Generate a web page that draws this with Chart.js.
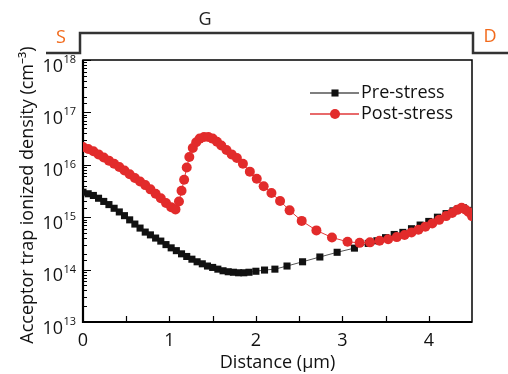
<!DOCTYPE html>
<html>
<head>
<meta charset="utf-8">
<script src="https://cdn.jsdelivr.net/npm/chart.js@4.4.0/dist/chart.umd.min.js"></script>
<style>
  html, body { margin: 0; padding: 0; background: #fff; }
  #wrap { width: 508px; height: 374px; }
</style>
</head>
<body>
<div id="wrap"><canvas id="trap-chart" width="508" height="374"></canvas></div>
<script>
const FONT = "'Open Sans', 'Noto Sans', sans-serif";

// Pre-stress (black squares), distance in um, density in cm^-3
const preX = [0, 0.06, 0.12, 0.18, 0.24, 0.30, 0.36, 0.42, 0.48, 0.54, 0.60, 0.66, 0.72, 0.78, 0.84, 0.90, 0.96,
  1.02, 1.08, 1.14, 1.20, 1.26, 1.32, 1.38, 1.44, 1.50, 1.56, 1.62, 1.68, 1.74, 1.80, 1.86, 1.92, 2.00,
  2.10, 2.22, 2.36, 2.54, 2.74, 2.94, 3.14, 3.30, 3.40, 3.50, 3.60, 3.70, 3.80, 3.90, 4.00, 4.10, 4.20,
  4.28, 4.34, 4.40, 4.45, 4.50];
const preY = [3.0e15, 2.8e15, 2.6e15, 2.3e15, 2.0e15, 1.74e15, 1.48e15, 1.26e15, 1.07e15, 8.9e14, 7.4e14, 6.2e14,
  5.2e14, 4.6e14, 4.0e14, 3.5e14, 3.0e14, 2.6e14, 2.3e14, 2.0e14, 1.78e14, 1.58e14, 1.41e14, 1.29e14, 1.17e14,
  1.10e14, 1.02e14, 9.5e13, 9.1e13, 8.9e13, 8.7e13, 8.7e13, 8.9e13, 9.3e13, 9.8e13, 1.02e14, 1.17e14, 1.41e14,
  1.74e14, 2.14e14, 2.57e14, 3.16e14, 3.55e14, 4.07e14, 4.68e14, 5.13e14, 6.03e14, 7.08e14, 8.3e14, 1.0e15,
  1.17e15, 1.32e15, 1.45e15, 1.51e15, 1.35e15, 1.07e15];

// Post-stress (red circles)
const postX = [0, 0.06, 0.12, 0.18, 0.24, 0.30, 0.36, 0.42, 0.48, 0.54, 0.60, 0.66, 0.72, 0.78, 0.84, 0.90, 0.96,
  1.02, 1.07, 1.11, 1.14, 1.17, 1.20, 1.23, 1.27, 1.31, 1.35, 1.40, 1.45, 1.50, 1.55, 1.60, 1.66, 1.72, 1.78,
  1.85, 1.93, 2.01, 2.09, 2.18, 2.28, 2.39, 2.53, 2.70, 2.88, 3.06, 3.20, 3.32, 3.43, 3.53, 3.63, 3.72, 3.80,
  3.88, 3.96, 4.04, 4.12, 4.20, 4.27, 4.33, 4.38, 4.42, 4.46, 4.50];
const postY = [2.19e16, 2.0e16, 1.82e16, 1.58e16, 1.38e16, 1.20e16, 1.05e16, 9.1e15, 7.8e15, 6.6e15, 5.6e15, 4.8e15,
  4.1e15, 3.4e15, 2.8e15, 2.3e15, 1.86e15, 1.55e15, 1.41e15, 2.0e15, 3.2e15, 5.2e15, 8.9e15, 1.41e16, 2.09e16,
  2.69e16, 3.16e16, 3.39e16, 3.39e16, 3.16e16, 2.75e16, 2.34e16, 1.91e16, 1.58e16, 1.35e16, 1.05e16, 7.4e15,
  5.4e15, 3.9e15, 2.9e15, 2.04e15, 1.35e15, 8.5e14, 5.6e14, 4.1e14, 3.4e14, 3.24e14, 3.31e14, 3.55e14, 3.8e14,
  4.17e14, 4.57e14, 5.13e14, 5.75e14, 6.6e14, 7.6e14, 8.9e14, 1.05e15, 1.20e15, 1.38e15, 1.51e15, 1.41e15,
  1.26e15, 1.05e15];

const seriesNames = ['Pre-stress', 'Post-stress'];
const xTickLabels = [0, 1, 2, 3, 4];
const yTickExps = [13, 14, 15, 16, 17, 18];

const toPoints = (xs, ys) => xs.map((x, i) => ({ x: x, y: ys[i] }));

const frame = {
  id: 'frame',
  beforeDatasetsDraw(chart) {
    const ctx = chart.ctx, a = chart.chartArea;
    const xs = chart.scales.x, ys = chart.scales.y;
    ctx.save();
    ctx.strokeStyle = '#000';
    ctx.lineWidth = 1.5;
    ctx.strokeRect(a.left, a.top, a.right - a.left, a.bottom - a.top);
    ctx.lineWidth = 2.2;
    ctx.beginPath();
    ctx.moveTo(a.left, a.top);
    ctx.lineTo(a.left, a.bottom);
    ctx.lineTo(a.right, a.bottom);
    ctx.stroke();

    // inward ticks
    ctx.lineWidth = 1.2;
    ctx.beginPath();
    xs.ticks.forEach(t => {
      if (t.value <= xs.min || t.value >= xs.max) return;
      const px = Math.round(xs.getPixelForValue(t.value)) + 0.5;
      ctx.moveTo(px, a.bottom);
      ctx.lineTo(px, a.bottom - 6);
    });
    ys.ticks.forEach(t => {
      const e = Math.log10(t.value);
      const major = Math.abs(e - Math.round(e)) < 1e-6;
      const py = Math.round(ys.getPixelForValue(t.value)) + 0.5;
      ctx.moveTo(a.left, py);
      ctx.lineTo(a.left + (major ? 8 : 4), py);
    });
    ctx.stroke();

    // y tick labels 10^n
    ctx.fillStyle = '#111';
    yTickExps.forEach(n => {
      const py = ys.getPixelForValue(Math.pow(10, n));
      ctx.font = '18px ' + FONT;
      ctx.textAlign = 'right';
      ctx.textBaseline = 'alphabetic';
      ctx.fillText('10', 63, py + 11.5);
      ctx.font = '11px ' + FONT;
      ctx.textAlign = 'left';
      ctx.fillText(String(n), 63.5, py + 3);
    });

    // y axis title
    ctx.save();
    ctx.translate(33, 195);
    ctx.rotate(-Math.PI / 2);
    ctx.font = '18px ' + FONT;
    ctx.textAlign = 'center';
    ctx.textBaseline = 'alphabetic';
    ctx.fillText('Acceptor trap ionized density (cm\u207B\u00B3)', 0, 0);
    ctx.restore();
    ctx.restore();
  },
  afterDraw(chart) {
    const ctx = chart.ctx;
    ctx.save();
    // gate outline above the plot
    ctx.strokeStyle = '#333';
    ctx.lineWidth = 2.5;
    ctx.beginPath();
    ctx.moveTo(46, 53);
    ctx.lineTo(80, 53);
    ctx.lineTo(80, 33);
    ctx.lineTo(473, 33);
    ctx.lineTo(473, 53);
    ctx.lineTo(508, 53);
    ctx.stroke();

    ctx.font = '18px ' + FONT;
    ctx.textAlign = 'center';
    ctx.textBaseline = 'middle';
    ctx.fillStyle = '#f26a1b';
    ctx.fillText('S', 61, 38);
    ctx.fillText('D', 490, 37);
    ctx.fillStyle = '#222';
    ctx.fillText('G', 205, 20);

    // legend
    const ds = chart.data.datasets;
    const rows = [{ d: ds[1], y: 93 }, { d: ds[0], y: 114 }];
    rows.forEach(r => {
      ctx.strokeStyle = r.d.borderColor;
      ctx.lineWidth = 1.5;
      ctx.beginPath();
      ctx.moveTo(310, r.y);
      ctx.lineTo(359, r.y);
      ctx.stroke();
      ctx.fillStyle = r.d.pointBackgroundColor;
      Chart.helpers.drawPoint(ctx, { pointStyle: r.d.pointStyle, radius: r.d.pointRadius, borderWidth: 0 }, 335, r.y);
      ctx.fillStyle = '#111';
      ctx.font = '18px ' + FONT;
      ctx.textAlign = 'left';
      ctx.textBaseline = 'middle';
      ctx.fillText(r.d.label, 361, r.y);
    });
    ctx.restore();
  }
};

const config = {
  type: 'line',
  data: {
    datasets: [
      {
        label: seriesNames[1],
        data: toPoints(postX, postY),
        borderColor: '#e0383a',
        backgroundColor: '#e22b2b',
        pointBackgroundColor: '#e22b2b',
        pointBorderColor: '#e22b2b',
        pointStyle: 'circle',
        pointRadius: 5,
        pointBorderWidth: 0,
        borderWidth: 1,
        tension: 0
      },
      {
        label: seriesNames[0],
        data: toPoints(preX, preY),
        borderColor: '#555',
        backgroundColor: '#111',
        pointBackgroundColor: '#111',
        pointBorderColor: '#111',
        pointStyle: 'rect',
        pointRadius: 5,
        pointBorderWidth: 0,
        borderWidth: 1,
        tension: 0
      }
    ]
  },
  options: {
    responsive: false,
    devicePixelRatio: 1,
    animation: false,
    layout: { padding: { top: 60, right: 36, left: 0, bottom: 0 } },
    plugins: {
      legend: { display: false },
      tooltip: { enabled: false }
    },
    scales: {
      x: {
        type: 'linear',
        min: 0,
        max: 4.5,
        grid: { display: false, drawTicks: false },
        border: { display: false },
        ticks: {
          stepSize: 0.5,
          autoSkip: false,
          maxRotation: 0,
          padding: 8,
          color: '#111',
          font: { family: FONT, size: 18 },
          callback: v => xTickLabels.includes(v) ? String(v) : ''
        },
        title: {
          display: true,
          text: 'Distance (\u00B5m)',
          color: '#111',
          font: { family: FONT, size: 18 },
          padding: { top: 0, bottom: 0 }
        },
        afterFit: s => { s.height = 52; }
      },
      y: {
        type: 'logarithmic',
        min: 1e13,
        max: 1e18,
        grid: { display: false, drawTicks: false },
        border: { display: false },
        ticks: { display: false, autoSkip: false },
        afterFit: s => { s.width = 83; }
      }
    }
  },
  plugins: [frame]
};

const myChart = new Chart(document.getElementById('trap-chart'), config);
</script>
</body>
</html>
